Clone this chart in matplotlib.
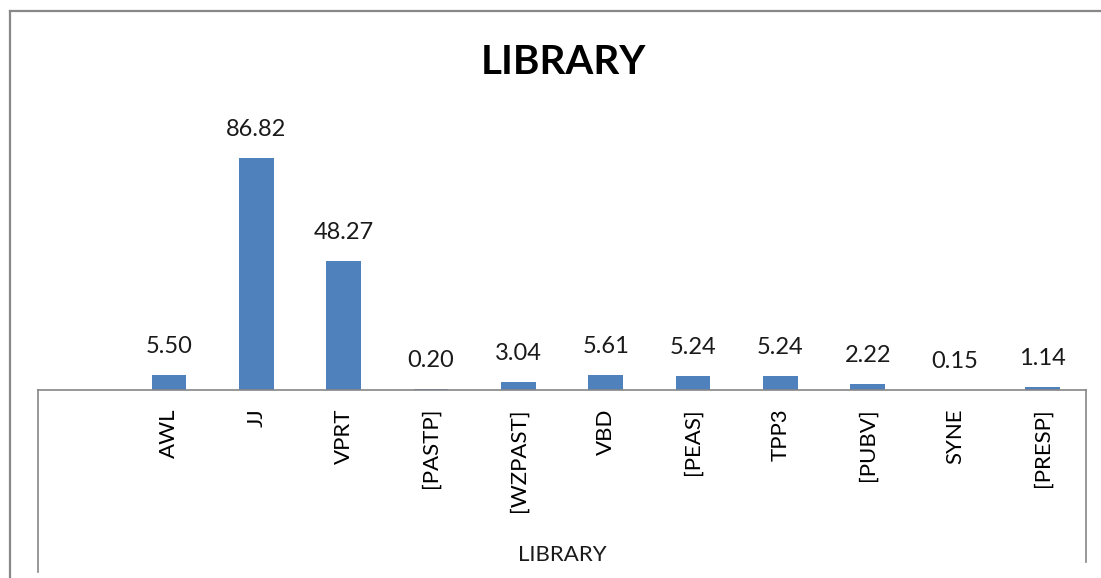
import numpy as np
import matplotlib
matplotlib.use("Agg")
import matplotlib.pyplot as plt
from matplotlib.lines import Line2D

plt.rcParams['font.family'] = ['Lato', 'DejaVu Sans']

# data (first category slot is empty in the original)
categories = ['', 'AWL', 'JJ', 'VPRT', '[PASTP]', '[WZPAST]', 'VBD',
              '[PEAS]', 'TPP3', '[PUBV]', 'SYNE', '[PRESP]']
values = [np.nan, 5.50, 86.82, 48.27, 0.20, 3.04, 5.61,
          5.24, 5.24, 2.22, 0.15, 1.14]
group_label = 'LIBRARY'
title = 'LIBRARY'

W, H = 1101, 578
fig = plt.figure(figsize=(W / 100, H / 100), dpi=100)

# axes placed in pixel terms: x 38..1086, baseline at y=390
ax_left, ax_right = 38, 1086
base_y, top_y = 390, 123
ax = fig.add_axes([ax_left / W, (H - base_y) / H,
                   (ax_right - ax_left) / W, (base_y - top_y) / H])

x = np.arange(len(categories))
ax.bar(x, values, width=0.40, color='#4F81BD', zorder=2)

for xi, v in zip(x, values):
    if np.isnan(v):
        continue
    ax.annotate(f'{v:.2f}', (xi, v), xytext=(0, 13), textcoords='offset points',
                ha='center', va='bottom', fontsize=17, color='#1a1a1a')

ax.set_xlim(-0.5, len(categories) - 0.5)
ax.set_ylim(0, 100)
ax.set_xticks(x)
ax.set_xticklabels(categories, rotation=90, fontsize=16, va='top')
ax.tick_params(axis='x', length=0, pad=13)
ax.set_yticks([])
for s in ['left', 'right', 'top']:
    ax.spines[s].set_visible(False)
ax.spines['bottom'].set_color('#868686')
ax.spines['bottom'].set_linewidth(1.2)

# group dividers below the axis
fig.add_artist(Line2D([ax_left / W, ax_left / W], [(H - base_y) / H, (H - 572) / H],
                      transform=fig.transFigure, color='#868686', lw=1.2))
fig.add_artist(Line2D([ax_right / W, ax_right / W], [(H - base_y) / H, (H - 562) / H],
                      transform=fig.transFigure, color='#868686', lw=1.2))
fig.text((ax_left + ax_right) / 2 / W, (H - 555) / H, group_label,
         ha='center', va='center', fontsize=16, color='#1a1a1a')

# title
fig.text(563 / W, (H - 62) / H, title, ha='center', va='center',
         fontsize=29, fontweight='bold', color='black')

# outer chart border (cropped on right and bottom)
fig.add_artist(Line2D([9.5 / W, 9.5 / W], [0, (H - 11) / H],
                      transform=fig.transFigure, color='#888888', lw=1.6))
fig.add_artist(Line2D([9.5 / W, 1], [(H - 11) / H, (H - 11) / H],
                      transform=fig.transFigure, color='#888888', lw=1.6))

fig.savefig('out.png', dpi=100)
